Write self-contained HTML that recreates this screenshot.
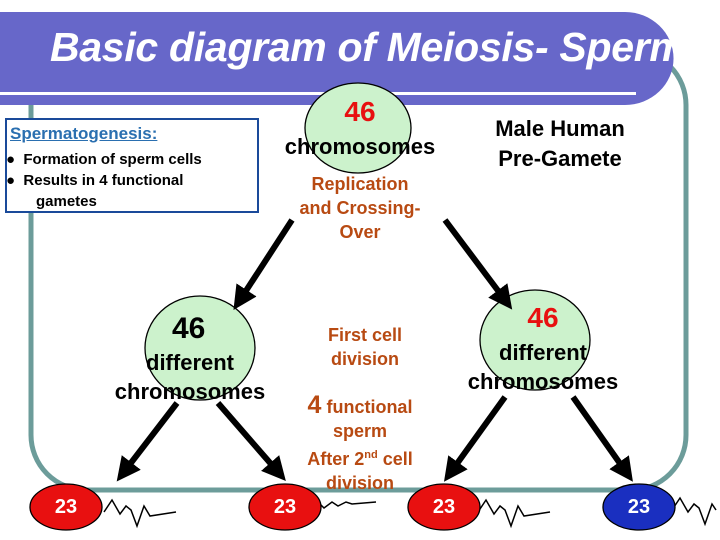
<!DOCTYPE html>
<html><head><style>
body{margin:0;width:720px;height:540px;background:#fff;position:relative;overflow:hidden;font-family:"Liberation Sans",sans-serif}
.t{position:absolute;font-weight:bold;text-align:center;white-space:nowrap}
.o{color:#b84a12}
</style></head><body>
<svg width="720" height="540" style="position:absolute;left:0;top:0">
<defs><marker id="a" markerWidth="4" markerHeight="4" refX="2" refY="2" orient="auto"><path d="M0,0L4,2L0,4z" fill="#000"/></marker></defs>
<rect x="31" y="50" width="655" height="440" rx="55" fill="none" stroke="#6c9c9a" stroke-width="5"/>
<path d="M0,12H625A48,46 0 0 1 625,105H0z" fill="#6767c9"/>
<rect x="0" y="92" width="636" height="3" fill="#fff"/>
<ellipse cx="358" cy="128" rx="53" ry="45" fill="#ccf2cc" stroke="#000" stroke-width="1.3"/>
<ellipse cx="200" cy="348" rx="55" ry="52" fill="#ccf2cc" stroke="#000" stroke-width="1.3"/>
<ellipse cx="535" cy="340" rx="55" ry="50" fill="#ccf2cc" stroke="#000" stroke-width="1.3"/>
<g stroke="#000" stroke-width="6" marker-end="url(#a)">
<line x1="292" y1="220" x2="240" y2="300"/>
<line x1="445" y1="220" x2="505" y2="300"/>
<line x1="177" y1="403" x2="124" y2="472"/>
<line x1="218" y1="403" x2="278" y2="472"/>
<line x1="505" y1="397" x2="451" y2="472"/>
<line x1="573" y1="397" x2="626" y2="472"/>
</g>
<g fill="none" stroke="#000" stroke-width="1.5">
<path d="M104,512l8,-12 8,14 6,-8 5,4 6,16 7,-20 6,10 26,-4"/>
<path d="M308,506l8,-6 8,8 8,-6 6,4 8,-4 6,2 24,-2"/>
<path d="M478,512l8,-12 8,14 6,-8 5,4 6,16 7,-20 6,10 26,-4"/>
<path d="M672,510l8,-12 8,14 6,-8 5,4 6,16 7,-20 4,6"/>
</g>
<ellipse cx="66" cy="507" rx="36" ry="23" fill="#e81010" stroke="#000" stroke-width="1.3"/>
<ellipse cx="285" cy="507" rx="36" ry="23" fill="#e81010" stroke="#000" stroke-width="1.3"/>
<ellipse cx="444" cy="507" rx="36" ry="23" fill="#e81010" stroke="#000" stroke-width="1.3"/>
<ellipse cx="639" cy="507" rx="36" ry="23" fill="#1a2fc0" stroke="#000" stroke-width="1.3"/>
<rect x="6" y="119" width="252" height="93" fill="#fff" stroke="#1a4a9a" stroke-width="2"/>
</svg>
<div class="t" style="left:50px;top:24px;font-size:41px;font-style:italic;color:#fff;letter-spacing:-0.3px">Basic diagram of Meiosis- Sperm</div>
<div style="position:absolute;left:10px;top:124px;font-size:17px;font-weight:bold;color:#2a6fb0;text-decoration:underline">Spermatogenesis:</div>
<div style="position:absolute;left:6px;top:149px;font-size:15px;font-weight:bold;line-height:21px">
<div>● &nbsp;Formation of sperm cells</div><div>● &nbsp;Results in 4 functional</div><div style="padding-left:30px">gametes</div></div>
<div class="t" style="left:325px;top:96px;width:70px;font-size:28px;color:#e81010">46</div>
<div class="t" style="left:270px;top:134px;width:180px;font-size:22px">chromosomes</div>
<div class="t" style="left:460px;top:114px;width:200px;font-size:22px;line-height:30px">Male Human<br>Pre-Gamete</div>
<div class="t o" style="left:270px;top:172px;width:180px;font-size:18px;line-height:24px">Replication<br>and Crossing-<br>Over</div>
<div class="t" style="left:150px;top:312px;width:80px;font-size:30px;text-align:left;padding-left:22px">46</div>
<div class="t" style="left:90px;top:348px;width:200px;font-size:22px;line-height:29px">different<br>chromosomes</div>
<div class="t" style="left:443px;top:302px;width:200px;font-size:28px;color:#e81010">46</div>
<div class="t" style="left:443px;top:338px;width:200px;font-size:22px;line-height:29px">different<br>chromosomes</div>
<div class="t o" style="left:265px;top:323px;width:200px;font-size:18px;line-height:24px">First cell<br>division</div>
<div class="t o" style="left:260px;top:393px;width:200px;font-size:18px;line-height:24px"><span style="font-size:25px">4</span> functional<br>sperm<br>After 2<sup style="font-size:11px">nd</sup> cell<br>division</div>
<div class="t" style="left:30px;top:496px;width:72px;font-size:20px;color:#fff">23</div>
<div class="t" style="left:249px;top:496px;width:72px;font-size:20px;color:#fff">23</div>
<div class="t" style="left:408px;top:496px;width:72px;font-size:20px;color:#fff">23</div>
<div class="t" style="left:603px;top:496px;width:72px;font-size:20px;color:#fff">23</div>
</body></html>
